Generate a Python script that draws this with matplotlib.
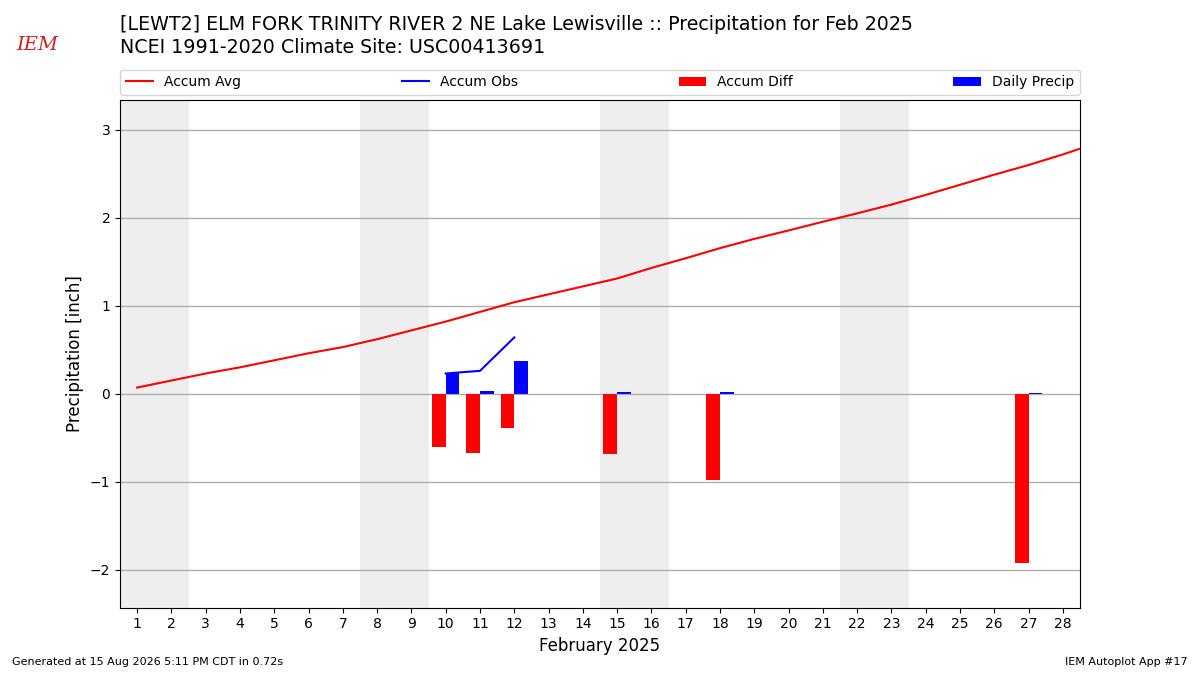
import numpy as np
import matplotlib.pyplot as plt

days = np.arange(1, 30)
# climatology accumulated average (day 29 only to reach the edge)
accum_avg = [0.07, 0.15, 0.23, 0.30, 0.38, 0.46, 0.53, 0.62, 0.72, 0.82,
             0.93, 1.04, 1.13, 1.22, 1.31, 1.43, 1.54, 1.655, 1.76, 1.856,
             1.955, 2.05, 2.15, 2.26, 2.375, 2.49, 2.60, 2.72, 2.85]

obs_days = [10, 11, 12]
accum_obs = [0.23, 0.26, 0.64]

diff_days = [10, 11, 12, 15, 18, 27]
accum_diff = [-0.60, -0.67, -0.39, -0.68, -0.98, -1.92]

precip_days = [10, 11, 12, 15, 18, 27]
daily_precip = [0.23, 0.03, 0.375, 0.02, 0.02, 0.01]

weekends = [1, 8, 15, 22]

fig = plt.figure(figsize=(12, 6.75), dpi=100)
ax = fig.add_axes([0.1, 0.1, 0.8, 0.752])

for d in weekends:
    ax.axvspan(d - 0.5, d + 1.5, color='#eeeeee', zorder=0, lw=0)

ax.plot(days, accum_avg, color='r', lw=1.5, label='Accum Avg', zorder=3)
ax.plot(obs_days, accum_obs, color='b', lw=1.5, label='Accum Obs', zorder=3)
ax.bar(diff_days, accum_diff, width=-0.4, align='edge', color='r', label='Accum Diff', zorder=2)
ax.bar(precip_days, daily_precip, width=0.4, align='edge', color='b', label='Daily Precip', zorder=2)

ax.set_xlim(0.5, 28.5)
ax.set_ylim(-2.43, 3.34)
ax.set_xticks(range(1, 29))
ax.set_yticks(range(-2, 4))
ax.grid(axis='y', color='#b0b0b0', lw=1)
ax.set_axisbelow(True)
ax.set_xlabel('February 2025', fontsize=12)
ax.set_ylabel('Precipitation [inch]', fontsize=12)

ax.legend(bbox_to_anchor=(0, 1.01, 1, 0.05), loc='lower left', mode='expand',
          ncol=4, borderaxespad=0, fontsize=10)

fig.text(0.1, 0.964, '[LEWT2] ELM FORK TRINITY RIVER 2 NE Lake Lewisville :: Precipitation for Feb 2025',
         fontsize=13.7, va='center')
fig.text(0.1, 0.930, 'NCEI 1991-2020 Climate Site: USC00413691', fontsize=13.7, va='center')
fig.text(0.031, 0.933, 'IEM', fontsize=14, color='#cc2222', style='italic', family='serif', ha='center', va='center')

fig.text(0.01, 0.015, 'Generated at 15 Aug 2026 5:11 PM CDT in 0.72s', fontsize=8)
fig.text(0.99, 0.015, 'IEM Autoplot App #17', fontsize=8, ha='right')

fig.savefig('out.png', dpi=100)
